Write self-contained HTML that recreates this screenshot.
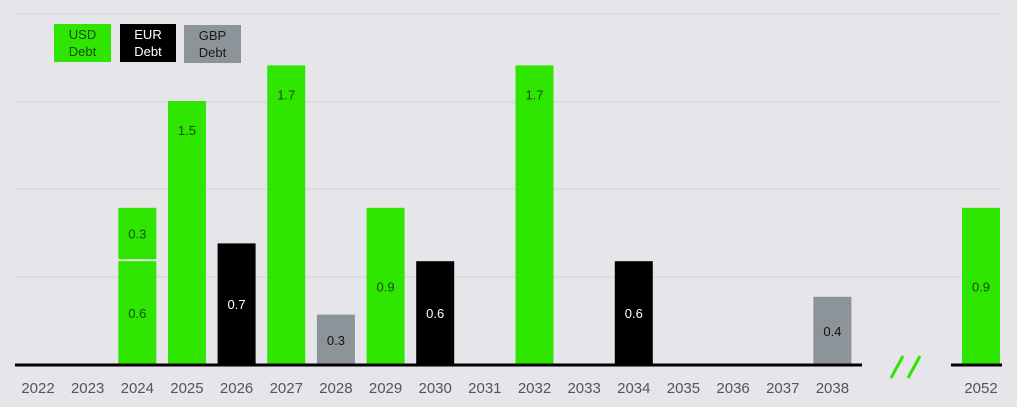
<!DOCTYPE html>
<html><head><meta charset="utf-8"><style>
body{margin:0;background:#e6e6ea;}
svg{display:block;font-family:"Liberation Sans",sans-serif;}
</style></head><body>
<svg id="c" width="1017" height="407">
<rect width="1017" height="407" fill="#e6e6ea"/>
<g id="grid"></g>
<g id="bars"></g>
<g id="axis"></g>
<g>
<rect x="54" y="24" width="57" height="38" fill="#2ee600"/>
<text x="82.5" y="39" text-anchor="middle" font-size="13" fill="#1a4a10">USD</text>
<text x="82.5" y="56" text-anchor="middle" font-size="13" fill="#1a4a10">Debt</text>
<rect x="120" y="24" width="56" height="38" fill="#000"/>
<text x="148" y="39" text-anchor="middle" font-size="13" fill="#fff">EUR</text>
<text x="148" y="56" text-anchor="middle" font-size="13" fill="#fff">Debt</text>
<rect x="184" y="25" width="57" height="38" fill="#8c9399"/>
<text x="212.5" y="40" text-anchor="middle" font-size="13" fill="#1a1a1a">GBP</text>
<text x="212.5" y="57" text-anchor="middle" font-size="13" fill="#1a1a1a">Debt</text>
</g>
</svg>
<script>
const years=["2022","2023","2024","2025","2026","2027","2028","2029","2030","2031","2032","2033","2034","2035","2036","2037","2038"];
const usd=[0,0,0.6,1.5,0,1.7,0,0.9,0,0,1.7,0,0,0,0,0,0];
const usd2=[0,0,0.3,0,0,0,0,0,0,0,0,0,0,0,0,0,0];
const eur=[0,0,0,0,0.7,0,0,0,0.6,0,0,0,0.6,0,0,0,0];
const gbp=[0,0,0,0,0,0,0.3,0,0,0,0,0,0,0,0,0,0.4];
const lastYear="2052";
const lastUsd=[0.9];
const gridTicks=[0.5,1,1.5,2];
const NS="http://www.w3.org/2000/svg";
const base=365;
function y(v){return v<=0?base:base-(v*178-3);}
function x(i){return 38+i*49.65;}
const svg=document.getElementById('c');
function mk(tag,attrs,parent){const e=document.createElementNS(NS,tag);for(const k in attrs)e.setAttribute(k,attrs[k]);parent.appendChild(e);return e;}
const G=document.getElementById('grid'),B=document.getElementById('bars'),A=document.getElementById('axis');
const gridY=[277,189,102,14];
gridTicks.forEach((t,i)=>{const l=mk('line',{x1:15,x2:1002,y1:gridY[i],y2:gridY[i],stroke:'#d2d2d6','stroke-width':1},G);

});
const GREEN='#2ee600',GRAY='#8c9399';
function bar(cx,v0,v1,fill,txt,tc,name){
 const top=y(v1),bot=v0>0?y(v0)-2:base;
 const r=mk('rect',{x:cx-19,y:top,width:38,height:bot-top,fill:fill},B);
 
 
 const ty=(v1-v0)>1?top+34:(top+bot)/2+5;
 const t=mk('text',{x:cx,y:ty,'text-anchor':'middle','font-size':13,fill:tc},B);
 t.textContent=txt;
 
 
}
years.forEach((yr,i)=>{
 const cx=x(i);
 if(usd[i]>0)bar(cx,0,usd[i],GREEN,usd[i].toFixed(1),'#1e4a14','bar-usd-'+yr);
 if(usd2[i]>0)bar(cx,usd[i],usd[i]+usd2[i],GREEN,usd2[i].toFixed(1),'#1e4a14','bar-usd-'+yr+'-b');
 if(eur[i]>0)bar(cx,0,eur[i],'#000',eur[i].toFixed(1),'#fff','bar-eur-'+yr);
 if(gbp[i]>0)bar(cx,0,gbp[i],GRAY,gbp[i].toFixed(1),'#111','bar-gbp-'+yr);
 const t=mk('text',{x:cx,y:393,'text-anchor':'middle','font-size':15,fill:'#555'},A);
 t.textContent=yr;
 
 
});
bar(981,0,lastUsd[0],GREEN,lastUsd[0].toFixed(1),'#1e4a14','bar-usd-'+lastYear);
const lt=mk('text',{x:981,y:393,'text-anchor':'middle','font-size':15,fill:'#555'},A);
lt.textContent=lastYear;


const b1=mk('line',{x1:15,x2:862,y1:base,y2:base,stroke:'#000','stroke-width':3},A);


const b2=mk('line',{x1:951,x2:1002,y1:base,y2:base,stroke:'#000','stroke-width':3},A);


[[891,903],[908,920]].forEach(p=>{const s=mk('line',{x1:p[0],y1:378,x2:p[1],y2:356,stroke:GREEN,'stroke-width':3},A);

});
</script>
</body></html>
